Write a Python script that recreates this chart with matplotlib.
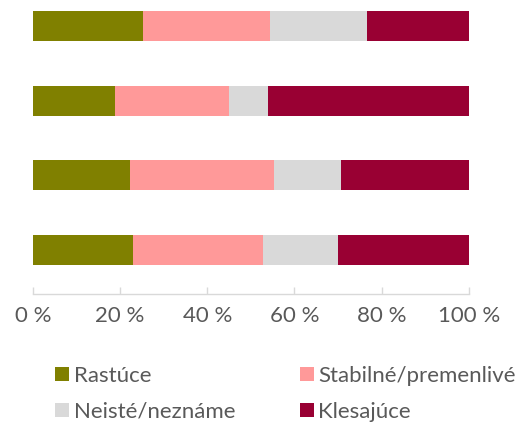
import matplotlib.pyplot as plt
import numpy as np
from matplotlib.patches import Patch
from matplotlib.ticker import FixedLocator

plt.rcParams['font.family'] = ['Lato', 'DejaVu Sans']

# sériové hodnoty v % (riadky zhora nadol)
kategorie = ['Rastúce', 'Stabilné/premenlivé', 'Neisté/neznáme', 'Klesajúce']
rastuce = [25.3, 18.9, 22.2, 23.0]
stabilne = [29.0, 26.1, 33.2, 29.9]
neiste = [22.4, 8.9, 15.2, 17.0]
klesajuce = [23.3, 46.1, 29.4, 30.1]
farby = ['#808000', '#FF9999', '#D9D9D9', '#990033']
x_ticks = [0, 20, 40, 60, 80, 100]

serie = [rastuce, stabilne, neiste, klesajuce]
text_col = '#595959'

fig = plt.figure(figsize=(5.23, 4.25), dpi=100)
ax = fig.add_axes([33 / 523, 1 - 294 / 425, 435.7 / 523, 294 / 425])

y = np.arange(len(rastuce))[::-1]
left = np.zeros(len(rastuce))
for vals, nazov, c in zip(serie, kategorie, farby):
    ax.barh(y, vals, left=left, height=0.4, color=c, label=nazov)
    left += np.array(vals)

ax.set_xlim(0, 100)
ax.set_ylim(-0.592, 3.351)
ax.xaxis.set_major_locator(FixedLocator(x_ticks))
ax.set_xticklabels([f'{t}\u00a0%' for t in x_ticks])
ax.set_yticks([])
for s in ['top', 'right', 'left']:
    ax.spines[s].set_visible(False)
ax.spines['bottom'].set_color('#D9D9D9')
ax.spines['bottom'].set_linewidth(1)
ax.tick_params(axis='x', direction='in', length=5, width=1, color='#D9D9D9',
               labelsize=16, labelcolor=text_col, pad=9)

# legenda po riadkoch: matplotlib plní stĺpce, preto preusporiadať
poradie = [0, 2, 1, 3]
handles = [Patch(facecolor=farby[i], edgecolor='none') for i in poradie]
labels = [kategorie[i] for i in poradie]
fs = 16
px = fs * 100 / 72
fig.legend(handles, labels, loc='upper left', bbox_to_anchor=(55 / 523, 1 - 366 / 425),
           ncol=2, frameon=False, fontsize=fs, labelcolor=text_col,
           handlelength=14 / px, handleheight=14 / px, handletextpad=5 / px,
           columnspacing=64 / px, labelspacing=0.72, borderpad=0, borderaxespad=0)

fig.savefig('out.png', dpi=100)
